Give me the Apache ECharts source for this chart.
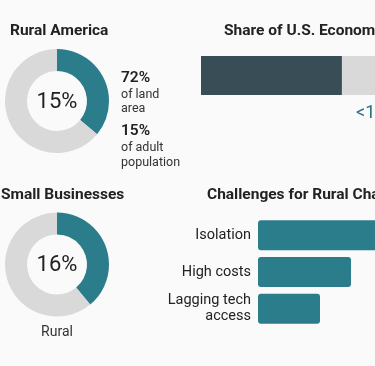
<!DOCTYPE html>
<html><head><meta charset="utf-8">
<script src="https://cdn.jsdelivr.net/npm/echarts@6/dist/echarts.min.js"></script>
<style>html,body{margin:0;padding:0;background:#fafafa}#c{width:375px;height:366px}</style>
</head><body><div id="c"></div>
<script>
const ruralAmericaPie = [36, 64];
const ruralAmericaCenter = '15%';
const ruralFacts = [['72%', 'of land', 'area'], ['15%', 'of adult', 'population']];
const economyShare = [81, 19];
const economyLabel = '<1%';
const smallBizPie = [39, 61];
const smallBizCenter = '16%';
const challengeCats = ['Isolation', 'High costs', 'Lagging tech\naccess'];
const challengeVals = [100, 79.5, 53];

const TEAL = '#2b7d8c', GREY = '#d9d9d9', SLATE = '#384d56', FONT = 'Roboto';
const chart = echarts.init(document.getElementById('c'), null, {renderer: 'canvas'});

function txt(x, y, s, size, weight, color, align) {
  return {type: 'text', x: x, y: y, style: {text: s, fontSize: size, fontWeight: weight || 'normal',
    fill: color || '#222', fontFamily: FONT, align: align || 'left', verticalAlign: 'middle'}};
}
const graphics = [
  txt(10, 31, 'Rural America', 15.5, 'bold'),
  txt(224, 31, 'Share of U.S. Economy', 15.5, 'bold'),
  txt(1, 195, 'Small Businesses', 15.5, 'bold'),
  txt(207, 195, 'Challenges for Rural Change', 15.5, 'bold'),
  txt(57, 102, ruralAmericaCenter, 22, 'normal', '#222', 'center'),
  txt(57, 265, smallBizCenter, 22, 'normal', '#222', 'center'),
  txt(57, 332, 'Rural', 14, 'normal', '#333', 'center'),
  txt(356, 113, economyLabel, 18, 'normal', '#2a6f7f'),
  txt(121, 78, ruralFacts[0][0], 15.5, 600),
  txt(121, 95, ruralFacts[0][1], 12.5, 'normal', '#333'),
  txt(121, 109, ruralFacts[0][2], 12.5, 'normal', '#333'),
  txt(121, 131, ruralFacts[1][0], 15.5, 600),
  txt(121, 148, ruralFacts[1][1], 12.5, 'normal', '#333'),
  txt(121, 163, ruralFacts[1][2], 12.5, 'normal', '#333')
];

function pie(center, vals) {
  return {type: 'pie', center: center, radius: [30, 52], startAngle: 90, clockwise: true,
    silent: true, label: {show: false}, labelLine: {show: false}, animation: false,
    data: [{value: vals[0], itemStyle: {color: TEAL}}, {value: vals[1], itemStyle: {color: GREY}}]};
}

chart.setOption({
  backgroundColor: '#fafafa',
  animation: false,
  graphic: graphics,
  grid: [
    {left: 201, top: 56, right: 0, height: 39},
    {left: 258, top: 217, right: 0, height: 110}
  ],
  xAxis: [
    {gridIndex: 0, type: 'value', min: 0, max: 100, show: false},
    {gridIndex: 1, type: 'value', min: 0, max: 100, show: false}
  ],
  yAxis: [
    {gridIndex: 0, type: 'category', data: ['Economy'], show: false},
    {gridIndex: 1, type: 'category', data: challengeCats, inverse: true,
     axisLine: {show: false}, axisTick: {show: false},
     axisLabel: {fontSize: 14.5, color: '#222', fontFamily: FONT, margin: 7, lineHeight: 16, align: 'right'}}
  ],
  series: [
    pie([57, 101], ruralAmericaPie),
    pie([57, 264.5], smallBizPie),
    {type: 'bar', xAxisIndex: 0, yAxisIndex: 0, stack: 'e', barWidth: 39, silent: true,
     data: [economyShare[0]], itemStyle: {color: SLATE}},
    {type: 'bar', xAxisIndex: 0, yAxisIndex: 0, stack: 'e', barWidth: 39, silent: true,
     data: [economyShare[1]], itemStyle: {color: GREY}},
    {type: 'bar', xAxisIndex: 1, yAxisIndex: 1, barWidth: 30, silent: true,
     data: challengeVals, itemStyle: {color: TEAL, borderRadius: [3, 0, 0, 3]}}
  ]
});
chart.setOption({series: [{}, {}, {}, {}, {data: challengeVals.map((v, i) => ({value: v,
  itemStyle: {borderRadius: i === 0 ? [3, 0, 0, 3] : 3}}))}]});
</script></body></html>
